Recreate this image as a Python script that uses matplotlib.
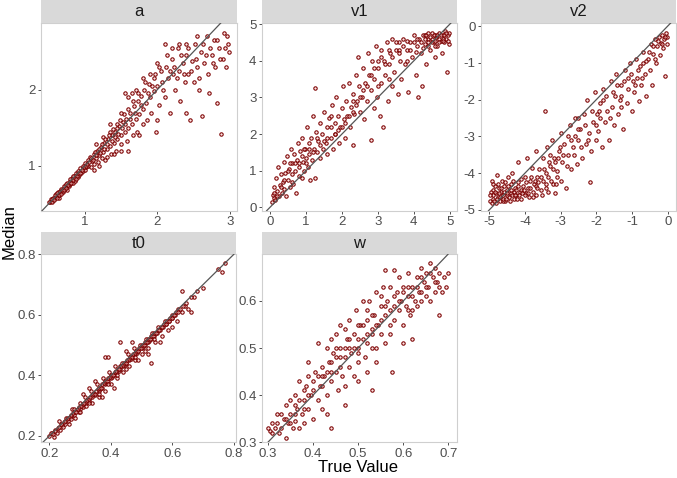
import matplotlib
matplotlib.use("Agg")
from matplotlib import pyplot as plt

plt.rcParams['font.family'] = ['Liberation Sans', 'DejaVu Sans']

# Panel titles
labels = ['a', 'v1', 'v2', 't0', 'w']

# (true value, median) pairs
a_pts = [(0.52,0.53),(0.53,0.56),(0.55,0.54),(0.56,0.58),(0.58,0.57),(0.6,0.6),(0.6,0.63),(0.62,0.6),(0.63,0.65),
         (0.65,0.62),(0.66,0.67),(0.68,0.66),(0.7,0.7),(0.7,0.66),(0.72,0.74),(0.73,0.69),(0.75,0.73),(0.76,0.78),
         (0.78,0.74),(0.8,0.8),(0.8,0.76),(0.82,0.84),(0.83,0.78),(0.85,0.86),(0.86,0.8),(0.88,0.9),(0.9,0.85),
         (0.9,0.93),(0.92,0.88),(0.94,0.97),(0.95,0.9),(0.97,1.0),(0.98,0.93),(1.0,1.04),(1.0,0.95),(1.02,0.98),
         (1.04,1.08),(1.05,1.0),(1.07,1.12),(1.08,0.98),(1.1,1.06),(1.12,1.15),(1.13,1.02),(1.15,1.1),(1.17,1.2),
         (1.18,1.05),(1.2,1.14),(1.22,1.25),(1.24,1.1),(1.25,1.18),(1.27,1.3),(1.3,1.22),(1.3,1.12),(1.32,1.35),
         (1.35,1.26),(1.36,1.15),(1.38,1.4),(1.4,1.3),(1.42,1.45),(1.43,1.2),(1.45,1.35),(1.47,1.52),(1.5,1.4),
         (1.5,1.28),(1.52,1.58),(1.55,1.45),(1.57,1.62),(1.58,1.32),(1.6,1.5),(1.62,1.7),(1.65,1.55),(1.66,1.4),
         (1.68,1.78),(1.7,1.62),(1.72,1.45),(1.74,1.85),(1.75,1.68),(1.78,1.92),(1.8,1.55),(1.8,1.75),(1.82,2.0),
         (1.85,1.82),(1.86,1.6),(1.88,2.08),(1.9,1.9),(1.92,1.7),(1.95,2.15),(1.96,1.98),(1.98,1.45),(2.0,2.05),
         (2.02,1.8),(2.05,2.25),(2.07,2.1),(2.1,1.9),(2.12,2.3),(2.15,2.15),(2.18,1.7),(2.2,2.4),(2.22,2.2),
         (2.25,2.0),(2.28,2.55),(2.3,2.25),(2.32,1.85),(2.35,2.35),(2.38,2.1),(2.4,2.45),(2.42,2.2),(2.45,1.6),
         (2.48,2.38),(2.5,2.1),(2.52,2.6),(2.55,2.3),(2.58,2.0),(2.6,2.5),(2.62,1.65),(2.65,2.35),(2.68,2.7),
         (2.7,2.2),(2.72,1.95),(2.75,2.45),(2.78,2.65),(2.8,2.3),(2.82,1.82),(2.85,2.55),(2.88,1.42),(2.9,2.4),
         (2.92,2.75),(2.95,2.3),(2.97,2.6),(2.99,2.5),(1.55,1.95),(1.6,1.9),(1.45,1.55),(1.35,1.45),(1.7,2.0),
         (1.9,2.2),(2.1,2.6),(2.3,2.6),(2.55,2.7),(0.65,0.58),(0.75,0.68),(1.15,1.28),(1.25,1.38),(2.0,1.6),
         (1.75,1.4),(2.4,1.7),(1.6,1.2)]
a_pts_more = [(0.51,0.52),(0.54,0.52),(0.55,0.57),(0.57,0.55),(0.59,0.61),(0.61,0.58),(0.62,0.64),(0.64,0.61),
              (0.67,0.63),(0.67,0.7),(0.69,0.68),(0.71,0.68),(0.71,0.73),(0.74,0.71),(0.74,0.76),(0.77,0.75),
              (0.79,0.77),(0.79,0.82),(0.81,0.78),(0.84,0.81),(0.84,0.87),(0.87,0.84),(0.89,0.87),(0.91,0.9),
              (0.93,0.91),(0.96,0.95),(0.99,0.98),(1.01,1.0),(1.03,1.03),(1.06,1.05),(1.09,1.1),(1.11,1.08),
              (1.14,1.18),(1.16,1.14),(1.19,1.22),(1.21,1.17),(1.23,1.28),(1.26,1.22),(1.28,1.35),(1.31,1.28),
              (1.34,1.4),(1.37,1.32),(1.39,1.48),(1.41,1.38),(1.44,1.5),(1.46,1.42),(1.49,1.6),(1.51,1.5),
              (1.54,1.68),(1.56,1.55),(1.59,1.75),(1.63,1.62),(1.67,1.85),(1.69,1.7),(1.73,1.95),(1.77,1.8),
              (1.83,2.1),(1.87,1.95),(1.93,2.05),(1.97,2.2),(2.03,2.3),(2.08,2.0),(2.13,2.45),(2.17,2.25),
              (2.23,2.3),(2.27,2.15),(2.33,2.45),(2.37,2.2),(2.43,2.55),(2.47,2.25),(2.53,2.4),(2.57,2.15),
              (2.63,2.6),(2.67,2.45),(2.73,2.55),(2.77,2.35),(2.83,2.65),(2.87,2.4),(2.93,2.55),(2.96,2.7),
              (1.12,0.95),(1.2,1.0),(1.28,1.08),(1.4,1.15),(1.5,1.2),(0.88,0.82),(1.35,1.55),(1.5,1.7),
              (1.65,1.95),(1.8,2.15),(2.0,2.35),(2.2,2.55),(2.4,2.6)]

v1_pts = [(0.05,0.15),(0.08,0.35),(0.1,0.25),(0.12,0.55),(0.15,0.2),(0.18,0.8),(0.2,0.45),(0.22,1.1),(0.25,0.3),
          (0.28,0.6),(0.3,0.9),(0.33,0.4),(0.35,0.7),(0.38,1.25),(0.4,0.5),(0.42,0.95),(0.45,0.3),(0.48,1.4),
          (0.5,0.75),(0.52,1.05),(0.55,0.55),(0.58,1.6),(0.6,0.9),(0.62,1.2),(0.65,0.65),(0.68,1.45),(0.7,1.0),
          (0.72,0.4),(0.75,1.3),(0.78,1.75),(0.8,0.85),(0.82,1.1),(0.85,1.55),(0.88,0.8),(0.9,1.9),(0.92,1.25),
          (0.95,1.0),(0.98,1.6),(1.0,1.35),(1.02,2.2),(1.05,1.1),(1.08,1.75),(1.1,1.45),(1.12,0.75),(1.15,1.9),
          (1.18,1.3),(1.2,2.5),(1.22,1.6),(1.25,0.8),(1.25,3.25),(1.28,2.05),(1.3,1.5),(1.35,1.8),(1.38,2.3),
          (1.4,1.35),(1.45,2.0),(1.48,1.6),(1.5,2.6),(1.55,1.75),(1.58,2.2),(1.6,1.45),(1.65,2.45),(1.7,1.9),
          (1.72,2.8),(1.75,1.6),(1.8,2.3),(1.82,2.0),(1.85,3.0),(1.9,2.5),(1.92,1.75),(1.95,2.2),(2.0,2.7),
          (2.02,3.3),(2.05,2.4),(2.1,1.9),(2.12,2.9),(2.15,2.5),(2.2,3.4),(2.22,2.2),(2.25,2.75),(2.3,3.1),
          (2.32,1.7),(2.35,2.55),(2.4,3.6),(2.42,2.9),(2.45,4.1),(2.48,3.3),(2.5,2.6),(2.55,3.0),(2.6,3.8),
          (2.62,2.4),(2.65,3.4),(2.7,2.9),(2.72,4.2),(2.75,3.6),(2.8,1.85),(2.82,3.2),(2.85,4.0),(2.88,2.7),
          (2.9,3.5),(2.95,4.4),(2.98,3.0),(3.0,3.8),(3.05,2.5),(3.08,4.3),(3.1,3.4),(3.15,2.2),(3.18,4.0),
          (3.2,3.6),(3.25,4.5),(3.28,2.9),(3.3,3.9),(3.35,4.2),(3.38,3.3),(3.4,4.6),(3.45,3.7),(3.5,4.3),
          (3.55,3.1),(3.6,4.5),(3.62,4.0),(3.65,3.5),(3.7,4.6),(3.75,3.9),(3.8,4.3),(3.85,3.15),(3.9,4.5),
          (3.95,4.1),(4.0,4.7),(4.05,3.6),(4.1,4.4),(4.12,3.0),(4.15,4.6),(4.2,4.2),(4.22,3.3),(4.25,4.7),
          (4.3,4.45),(4.35,3.9),(4.4,4.6),(4.45,4.3),(4.5,4.75),(4.55,4.5),(4.6,4.1),(4.62,4.65),(4.65,4.4),
          (4.7,4.75),(4.75,4.55),(4.78,4.2),(4.8,4.7),(4.85,4.5),(4.88,4.8),(4.9,4.6),(4.92,3.7),(4.95,4.7),
          (4.98,4.45),(4.99,4.75),(4.5,4.6),(4.6,4.7),(4.7,4.6),(4.4,4.5),(4.3,4.7),(4.8,4.6)]
v1_pts_more = [(3.5,4.5),(3.6,4.3),(3.7,4.4),(3.8,4.55),(3.9,4.3),(4.0,4.5),(4.05,4.25),(4.1,4.6),(4.2,4.5),
               (4.25,4.35),(4.3,4.6),(4.35,4.7),(4.4,4.4),(4.45,4.65),(4.5,4.5),(4.55,4.7),(4.6,4.55),(4.65,4.7),
               (4.7,4.5),(4.75,4.7),(4.8,4.55),(4.85,4.7),(4.9,4.75),(4.95,4.55),(4.6,4.4),(4.4,4.75),(3.3,4.3),
               (3.1,4.1),(3.0,4.0),(2.9,3.8),(2.8,3.6),(2.7,3.3),(2.6,3.2),(2.5,3.0),(2.4,2.8),(2.3,2.6),
               (2.2,2.5),(2.1,2.3),(2.0,2.2),(1.9,2.1),(1.8,2.0),(1.7,2.2),(1.6,1.9),(1.5,1.8),(1.4,1.7),
               (1.3,1.9),(1.2,1.5),(1.1,1.6),(1.0,1.2),(0.9,1.4),(0.8,1.2),(0.7,1.2),(0.6,0.7),(0.5,1.0),
               (0.4,0.75),(0.3,0.55),(0.2,0.3),(0.1,0.4),(3.2,3.9),(3.4,4.1),(3.6,4.2),(3.8,4.0),(3.3,3.5),
               (3.0,3.3),(2.3,2.9),(1.7,2.5),(0.95,1.6),(0.55,1.2)]

v2_pts = [(-4.98,-4.75),(-4.95,-4.5),(-4.92,-4.2),(-4.9,-4.7),(-4.88,-4.6),(-4.85,-4.35),(-4.82,-4.8),(-4.8,-4.55),
          (-4.78,-4.05),(-4.75,-4.65),(-4.72,-4.4),(-4.7,-4.75),(-4.68,-4.5),(-4.65,-4.2),(-4.6,-4.6),(-4.58,-4.35),
          (-4.55,-4.75),(-4.5,-4.45),(-4.48,-4.1),(-4.45,-4.65),(-4.4,-4.3),(-4.38,-4.55),(-4.35,-4.0),(-4.3,-4.7),
          (-4.28,-4.4),(-4.25,-4.6),(-4.2,-4.25),(-4.18,-3.7),(-4.15,-4.5),(-4.1,-4.7),(-4.05,-4.35),(-4.0,-4.1),
          (-3.98,-4.55),(-3.95,-3.6),(-3.9,-4.4),(-3.88,-4.65),(-3.85,-4.2),(-3.8,-3.85),(-3.78,-4.5),(-3.75,-4.3),
          (-3.7,-3.4),(-3.68,-4.6),(-3.65,-4.1),(-3.6,-3.9),(-3.55,-4.45),(-3.5,-3.6),(-3.48,-4.2),(-3.45,-2.3),
          (-3.4,-4.0),(-3.38,-3.3),(-3.35,-4.5),(-3.3,-3.8),(-3.25,-3.1),(-3.2,-4.3),(-3.18,-3.6),(-3.15,-4.55),
          (-3.1,-3.95),(-3.05,-3.4),(-3.0,-2.9),(-2.98,-4.2),(-2.95,-3.7),(-2.9,-3.2),(-2.85,-4.4),(-2.8,-3.5),
          (-2.75,-2.7),(-2.7,-3.9),(-2.65,-3.3),(-2.6,-2.5),(-2.55,-3.75),(-2.5,-3.1),(-2.45,-2.8),(-2.4,-3.6),
          (-2.35,-2.4),(-2.3,-3.2),(-2.25,-2.0),(-2.2,-2.9),(-2.18,-4.25),(-2.15,-3.4),(-2.1,-2.6),(-2.05,-1.8),
          (-2.0,-3.1),(-1.98,-2.4),(-1.95,-2.85),(-1.9,-2.1),(-1.85,-3.3),(-1.8,-1.7),(-1.75,-2.6),(-1.7,-2.3),
          (-1.65,-3.1),(-1.6,-1.5),(-1.55,-2.2),(-1.5,-2.7),(-1.48,-1.9),(-1.45,-1.3),(-1.4,-2.4),(-1.35,-2.0),
          (-1.3,-1.6),(-1.25,-2.8),(-1.2,-1.2),(-1.15,-2.1),(-1.1,-1.7),(-1.05,-1.0),(-1.0,-2.3),(-0.98,-1.5),
          (-0.95,-1.8),(-0.9,-0.9),(-0.85,-1.4),(-0.8,-2.05),(-0.78,-1.1),(-0.75,-1.6),(-0.7,-0.7),(-0.65,-1.3),
          (-0.6,-1.9),(-0.55,-0.9),(-0.5,-1.2),(-0.48,-0.5),(-0.45,-1.6),(-0.4,-0.75),(-0.35,-0.35),(-0.32,-1.0),
          (-0.3,-0.55),(-0.25,-0.3),(-0.22,-0.8),(-0.2,-0.45),(-0.15,-0.25),(-0.12,-0.6),(-0.1,-0.35),(-0.08,-1.35),
          (-0.05,-0.2),(-0.03,-0.5),(-0.02,-0.3),(-4.6,-4.75),(-4.3,-4.5),(-4.0,-4.6),(-3.7,-4.35),(-3.4,-4.4),
          (-3.1,-4.1),(-2.8,-3.0),(-2.5,-2.5),(-4.9,-4.45),(-4.5,-4.6),(-4.1,-4.45),(-3.3,-3.5),(-2.6,-3.0),
          (-1.9,-2.5),(-1.3,-1.9),(-0.7,-1.0)]
v2_pts_more = [(-4.97,-4.6),(-4.93,-4.8),(-4.9,-4.3),(-4.86,-4.75),(-4.83,-4.5),(-4.79,-4.7),(-4.76,-4.3),
               (-4.73,-4.55),(-4.69,-4.65),(-4.66,-4.4),(-4.62,-4.7),(-4.59,-4.5),(-4.56,-4.25),(-4.52,-4.7),
               (-4.49,-4.55),(-4.46,-4.35),(-4.42,-4.75),(-4.39,-4.45),(-4.36,-4.6),(-4.32,-4.2),(-4.29,-4.6),
               (-4.26,-4.45),(-4.22,-4.7),(-4.19,-4.35),(-4.16,-4.6),(-4.12,-4.15),(-4.08,-4.55),(-4.02,-4.45),
               (-3.96,-4.25),(-3.92,-4.55),(-3.86,-4.4),(-3.82,-4.1),(-3.76,-4.65),(-3.72,-4.2),(-3.66,-4.4),
               (-3.62,-4.25),(-3.56,-4.1),(-3.52,-4.6),(-3.46,-3.9),(-3.42,-4.3),(-3.36,-4.1),(-3.32,-3.7),
               (-3.26,-4.2),(-3.22,-3.9),(-3.16,-3.7),(-3.12,-4.3),(-3.06,-3.6),(-3.02,-3.3),(-2.92,-3.5),
               (-2.82,-3.8),(-2.72,-3.1),(-2.62,-3.5),(-2.52,-2.8),(-2.42,-3.3),(-2.32,-2.7),(-2.22,-3.1),
               (-2.12,-2.3),(-2.02,-2.7),(-1.92,-2.3),(-1.82,-2.0),(-1.72,-1.9),(-1.62,-2.5),(-1.52,-1.8),
               (-1.42,-1.6),(-1.32,-2.2),(-1.22,-1.5),(-1.12,-1.4),(-1.02,-1.3),(-0.92,-1.6),(-0.82,-1.2),
               (-0.72,-1.4),(-0.62,-0.95),(-0.52,-0.7),(-0.42,-0.55),(-0.37,-0.9),(-0.27,-0.4),(-0.17,-0.5),
               (-0.07,-0.3)]

t0_pts = [(0.2,0.2),(0.21,0.21),(0.215,0.195),(0.22,0.22),(0.225,0.21),(0.23,0.25),(0.235,0.22),(0.24,0.235),
          (0.245,0.23),(0.25,0.24),(0.255,0.26),(0.26,0.25),(0.265,0.24),(0.27,0.265),(0.275,0.29),(0.28,0.27),
          (0.285,0.26),(0.29,0.285),(0.295,0.28),(0.3,0.29),(0.3,0.31),(0.305,0.3),(0.31,0.295),(0.315,0.33),
          (0.32,0.31),(0.32,0.3),(0.325,0.32),(0.33,0.315),(0.335,0.35),(0.34,0.33),(0.34,0.31),(0.345,0.34),
          (0.35,0.335),(0.355,0.37),(0.36,0.35),(0.36,0.33),(0.365,0.355),(0.37,0.36),(0.375,0.39),(0.38,0.37),
          (0.38,0.35),(0.385,0.375),(0.39,0.38),(0.395,0.41),(0.4,0.39),(0.4,0.37),(0.405,0.395),(0.41,0.4),
          (0.415,0.43),(0.42,0.41),(0.42,0.39),(0.425,0.415),(0.43,0.42),(0.435,0.44),(0.44,0.43),(0.44,0.41),
          (0.445,0.435),(0.45,0.44),(0.455,0.47),(0.46,0.45),(0.46,0.43),(0.465,0.455),(0.47,0.46),(0.475,0.49),
          (0.48,0.47),(0.48,0.45),(0.485,0.475),(0.49,0.48),(0.495,0.5),(0.5,0.49),(0.5,0.47),(0.505,0.495),
          (0.51,0.5),(0.515,0.52),(0.52,0.51),(0.52,0.49),(0.525,0.515),(0.53,0.52),(0.535,0.54),(0.54,0.53),
          (0.545,0.51),(0.55,0.54),(0.555,0.56),(0.56,0.55),(0.565,0.53),(0.57,0.56),(0.575,0.58),(0.58,0.57),
          (0.585,0.55),(0.59,0.58),(0.6,0.6),(0.6,0.59),(0.61,0.6),(0.615,0.58),(0.62,0.62),(0.63,0.61),
          (0.64,0.63),(0.645,0.64),(0.65,0.62),(0.66,0.61),(0.67,0.66),(0.68,0.68),(0.7,0.69),(0.75,0.75),
          (0.77,0.77),(0.76,0.74),(0.63,0.68),(0.43,0.51),(0.38,0.46),(0.39,0.46),(0.33,0.36),(0.31,0.34),
          (0.47,0.51),(0.53,0.44),(0.41,0.36),(0.37,0.33),(0.56,0.51),(0.6,0.56),(0.66,0.66),(0.45,0.48),
          (0.35,0.38),(0.28,0.29),(0.43,0.43),(0.49,0.45),(0.52,0.47)]
t0_pts_more = [(0.205,0.21),(0.212,0.205),(0.218,0.215),(0.228,0.225),(0.232,0.23),(0.238,0.24),(0.248,0.245),
               (0.252,0.25),(0.258,0.255),(0.262,0.26),(0.268,0.262),(0.272,0.27),(0.278,0.275),(0.282,0.28),
               (0.288,0.28),(0.292,0.29),(0.298,0.295),(0.302,0.3),(0.308,0.305),(0.312,0.31),(0.318,0.315),
               (0.322,0.32),(0.328,0.322),(0.332,0.33),(0.338,0.335),(0.342,0.34),(0.348,0.34),(0.352,0.35),
               (0.358,0.355),(0.362,0.36),(0.368,0.36),(0.372,0.37),(0.378,0.375),(0.382,0.38),(0.388,0.38),
               (0.392,0.39),(0.398,0.395),(0.402,0.4),(0.408,0.4),(0.412,0.41),(0.418,0.415),(0.422,0.42),
               (0.428,0.42),(0.432,0.43),(0.438,0.435),(0.442,0.44),(0.448,0.44),(0.452,0.45),(0.458,0.455),
               (0.462,0.46),(0.468,0.46),(0.472,0.47),(0.478,0.475),(0.482,0.48),(0.488,0.48),(0.492,0.49),
               (0.498,0.49),(0.502,0.5),(0.508,0.5),(0.512,0.51),(0.518,0.51),(0.522,0.52),(0.528,0.52),
               (0.532,0.53),(0.538,0.53),(0.542,0.54),(0.548,0.54),(0.552,0.55),(0.558,0.55),(0.562,0.56),
               (0.568,0.56),(0.572,0.57),(0.578,0.57),(0.582,0.58),(0.588,0.58),(0.592,0.59),(0.598,0.59),
               (0.605,0.6),(0.612,0.61),(0.618,0.61),(0.625,0.62),(0.635,0.63),(0.39,0.37),(0.42,0.4),
               (0.45,0.42),(0.48,0.46),(0.51,0.48),(0.54,0.52),(0.33,0.31),(0.36,0.34),(0.3,0.28),(0.27,0.255)]

w_pts = [(0.3,0.33),(0.305,0.325),(0.31,0.34),(0.315,0.33),(0.32,0.36),(0.325,0.32),(0.33,0.33),(0.335,0.35),
         (0.34,0.31),(0.34,0.38),(0.345,0.34),(0.35,0.36),(0.355,0.33),(0.36,0.4),(0.36,0.345),(0.365,0.37),
         (0.37,0.33),(0.37,0.43),(0.375,0.36),(0.38,0.39),(0.38,0.34),(0.385,0.42),(0.39,0.37),(0.39,0.47),
         (0.395,0.4),(0.4,0.35),(0.4,0.43),(0.405,0.45),(0.41,0.39),(0.41,0.51),(0.415,0.42),(0.42,0.37),
         (0.42,0.46),(0.425,0.44),(0.43,0.4),(0.43,0.5),(0.435,0.47),(0.44,0.33),(0.44,0.43),(0.445,0.49),
         (0.45,0.45),(0.45,0.53),(0.455,0.41),(0.46,0.48),(0.46,0.55),(0.465,0.44),(0.47,0.5),(0.47,0.42),
         (0.475,0.52),(0.48,0.46),(0.48,0.56),(0.485,0.49),(0.49,0.53),(0.49,0.44),(0.495,0.58),(0.5,0.5),
         (0.5,0.47),(0.505,0.55),(0.51,0.52),(0.51,0.6),(0.515,0.48),(0.52,0.56),(0.52,0.51),(0.525,0.6),
         (0.53,0.53),(0.53,0.41),(0.535,0.57),(0.54,0.5),(0.54,0.62),(0.545,0.55),(0.55,0.59),(0.55,0.53),
         (0.555,0.63),(0.56,0.57),(0.56,0.51),(0.565,0.6),(0.57,0.55),(0.57,0.63),(0.575,0.45),(0.58,0.59),
         (0.58,0.56),(0.585,0.62),(0.59,0.58),(0.59,0.65),(0.595,0.6),(0.6,0.55),(0.6,0.63),(0.605,0.59),
         (0.61,0.66),(0.61,0.61),(0.615,0.57),(0.62,0.63),(0.62,0.52),(0.625,0.6),(0.63,0.65),(0.63,0.59),
         (0.635,0.62),(0.64,0.67),(0.64,0.6),(0.645,0.64),(0.65,0.61),(0.65,0.66),(0.655,0.63),(0.66,0.6),
         (0.66,0.68),(0.665,0.65),(0.67,0.62),(0.67,0.67),(0.675,0.64),(0.68,0.57),(0.68,0.66),(0.685,0.62),
         (0.69,0.65),(0.695,0.63),(0.7,0.66),(0.58,0.665),(0.56,0.665),(0.44,0.52),(0.39,0.44),(0.35,0.39),
         (0.47,0.38),(0.5,0.43),(0.52,0.45),(0.54,0.47),(0.43,0.36),(0.6,0.51),(0.62,0.58),(0.48,0.5),
         (0.46,0.46),(0.53,0.54)]
w_pts_more = [(0.31,0.32),(0.32,0.34),(0.33,0.36),(0.34,0.35),(0.35,0.34),(0.36,0.38),(0.37,0.39),(0.38,0.41),
              (0.39,0.4),(0.4,0.41),(0.41,0.44),(0.42,0.42),(0.43,0.45),(0.44,0.47),(0.45,0.48),(0.46,0.5),
              (0.47,0.48),(0.48,0.52),(0.49,0.5),(0.5,0.52),(0.51,0.55),(0.52,0.53),(0.53,0.57),(0.54,0.55),
              (0.55,0.56),(0.56,0.59),(0.57,0.58),(0.58,0.61),(0.59,0.6),(0.6,0.62),(0.61,0.63),(0.62,0.61),
              (0.63,0.63),(0.64,0.65),(0.65,0.63),(0.66,0.66),(0.67,0.64),(0.45,0.5),(0.47,0.54),(0.5,0.55),
              (0.52,0.58),(0.55,0.61),(0.44,0.45),(0.42,0.44),(0.5,0.49),(0.53,0.5),(0.57,0.53),(0.61,0.58),
              (0.64,0.62),(0.68,0.63),(0.38,0.37),(0.36,0.36)]

# Tick positions per panel
a_ticks = ([1, 2, 3], [1, 2])
v1_ticks = ([0, 1, 2, 3, 4, 5], [0, 1, 2, 3, 4, 5])
v2_ticks = ([-5, -4, -3, -2, -1, 0], [-5, -4, -3, -2, -1, 0])
t0_ticks = ([0.2, 0.4, 0.6, 0.8], [0.2, 0.4, 0.6, 0.8])
w_ticks = ([0.3, 0.4, 0.5, 0.6, 0.7], [0.3, 0.4, 0.5, 0.6])

# Layout (pixels) and axis limits
W, H = 677, 478
panels = [
    ('a', a_pts + a_pts_more, a_ticks, (41, 237, 22.7, 210.7), (0.395, 3.1), (0.41, 2.88)),
    ('v1', v1_pts + v1_pts_more, v1_ticks, (262, 457, 22.7, 210.7), (-0.22, 5.2), (-0.09, 5.04)),
    ('v2', v2_pts + v2_pts_more, v2_ticks, (481, 676, 22.7, 210.7), (-5.23, 0.23), (-5.02, 0.09)),
    ('t0', t0_pts + t0_pts_more, t0_ticks, (41, 236, 254.3, 442.3), (0.173, 0.807), (0.179, 0.80)),
    ('w', w_pts + w_pts_more, w_ticks, (262, 457, 254.3, 442.3), (0.287, 0.719), (0.30, 0.699)),
]
strip_h = 22.6

fig = plt.figure(figsize=(W / 100, H / 100), dpi=100)

for name, pts, ticks, (x0, x1, y0, y1), xl, yl in panels:
    ax = fig.add_axes([x0 / W, 1 - y1 / H, (x1 - x0) / W, (y1 - y0) / H])
    xs = [p[0] for p in pts]
    ys = [p[1] for p in pts]
    ax.scatter(xs, ys, s=6, marker='o', facecolor=(1, 0.8, 0.8, 0.5),
               edgecolor='#7a0000', linewidths=0.75, zorder=2)
    ax.axline((0, 0), slope=1, color='#555555', lw=0.9, zorder=3)
    ax.set_xlim(*xl)
    ax.set_ylim(*yl)
    ax.set_xticks(ticks[0])
    ax.set_yticks(ticks[1])
    ax.set_xticklabels([f'{t:g}' for t in ticks[0]])
    ax.set_yticklabels([f'{t:g}' for t in ticks[1]])
    ax.tick_params(length=2.5, width=0.6, color='#333333', labelcolor='#4d4d4d',
                   labelsize=9.5, pad=1.5)
    for s in ax.spines.values():
        s.set_color('#cfcfcf')
        s.set_linewidth(0.8)

    # strip header
    st = fig.add_axes([x0 / W, 1 - y0 / H, (x1 - x0) / W, strip_h / H])
    st.set_facecolor('#d9d9d9')
    st.set_xticks([])
    st.set_yticks([])
    for s in st.spines.values():
        s.set_visible(False)
    st.text(0.5, 0.5, name, ha='center', va='center', fontsize=12, color='#1a1a1a')

fig.text(358.5 / W, 1 - 467 / H, 'True Value', ha='center', va='center', fontsize=12)
fig.text(9 / W, 1 - 232 / H, 'Median', ha='center', va='center', rotation=90, fontsize=12)

plt.savefig('out.png', dpi=100)
